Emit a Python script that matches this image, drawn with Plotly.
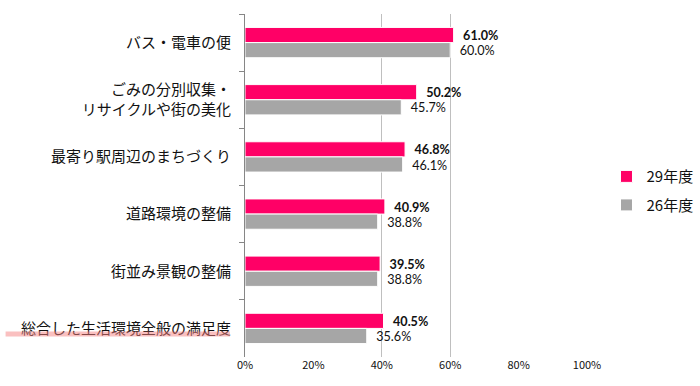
import plotly.graph_objects as go

categories = [
    "バス・電車の便",
    "ごみの分別収集・<br>リサイクルや街の美化",
    "最寄り駅周辺のまちづくり",
    "道路環境の整備",
    "街並み景観の整備",
    "総合した生活環境全般の満足度",
]
series_names = ["29年度", "26年度"]
values_h29 = [61.0, 50.2, 46.8, 40.9, 39.5, 40.5]
values_h26 = [60.0, 45.7, 46.1, 38.8, 38.8, 35.6]
x_tickvals = [0, 20, 40, 60, 80, 100]
x_ticktext = ["0%", "20%", "40%", "60%", "80%", "100%"]
grid_vals = [40, 60, 100]

PINK = "#FF0066"
GRAY = "#A6A6A6"
JP = "Noto Sans CJK JP"

fig = go.Figure()
fig.add_trace(go.Bar(
    name=series_names[0], y=categories, x=values_h29, orientation="h",
    legendgroup="a",
    marker=dict(color=PINK, line=dict(color="white", width=1)),
    texttemplate="\u00a0\u00a0<b>%{x:.1f}%</b>", textposition="outside",
    textfont=dict(family="Lato", size=15, color="#111111"),
    cliponaxis=False,
))
fig.add_trace(go.Bar(
    name=series_names[1], y=categories, x=values_h26, orientation="h",
    legendgroup="b",
    marker=dict(color=GRAY, line=dict(color="white", width=1)),
    texttemplate="\u00a0\u00a0%{x:.1f}%", textposition="outside",
    textfont=dict(family="Lato", size=15, color="#111111"),
    cliponaxis=False,
))

fig.update_layout(
    width=700, height=386,
    margin=dict(l=245, r=113, t=14, b=29, autoexpand=False),
    paper_bgcolor="white", plot_bgcolor="white",
    barmode="group", bargap=0.47, bargroupgap=0,
    showlegend=True,
    legend=dict(x=1.057, y=0.485, xanchor="left", yanchor="middle",
                font=dict(family=JP, size=15, color="#111111"),
                traceorder="grouped", tracegroupgap=6, itemwidth=30),
    xaxis=dict(range=[0, 100], tickvals=x_tickvals, ticktext=x_ticktext,
               showgrid=False, zeroline=False, showline=False, ticks="",
               automargin=False,
               tickfont=dict(family=JP, size=11, color="#111111"),
               minor=dict(tickvals=grid_vals, showgrid=True, gridcolor="#BFBFBF",
                          gridwidth=1, ticks="")),
    yaxis=dict(autorange="reversed", showline=True, linecolor="#868686", linewidth=1,
               ticks="outside", tickson="boundaries", ticklen=5, tickcolor="#868686",
               showgrid=False, ticklabelstandoff=10, automargin=False,
               tickfont=dict(family=JP, size=15, color="#111111")),
    font=dict(family=JP),
)

fig.add_shape(type="line", xref="paper", yref="paper",
              x0=-0.70, x1=-0.044, y0=0.067, y1=0.067,
              line=dict(color="rgba(245,130,130,0.5)", width=5))

fig.write_html("out.html")
